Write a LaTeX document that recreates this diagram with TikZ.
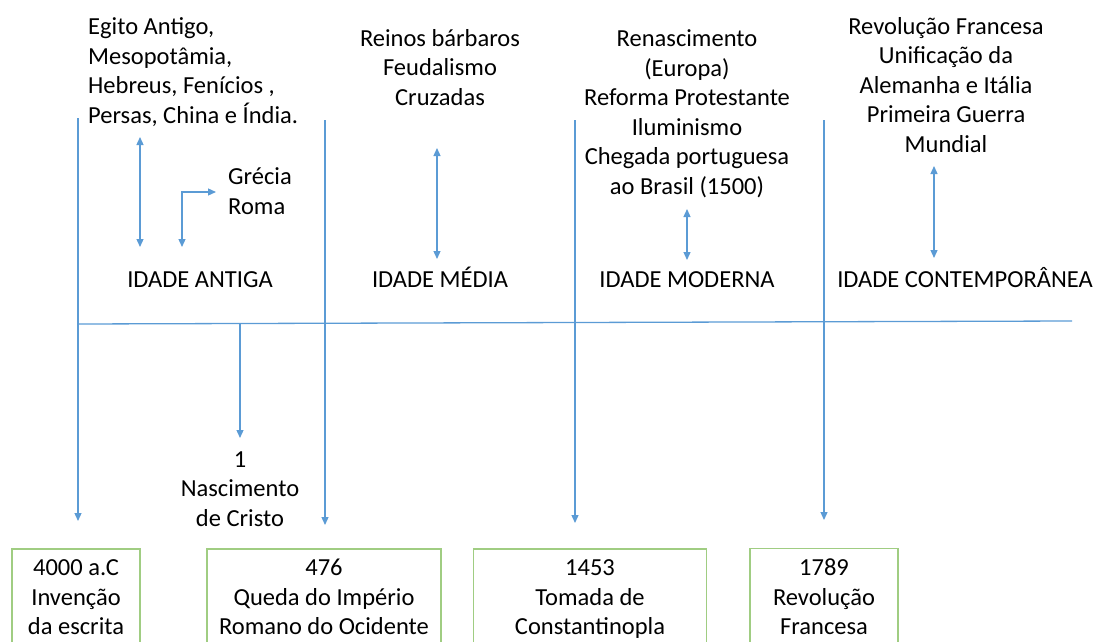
\documentclass[tikz,border=0pt]{standalone}
\usepackage{fontspec}
\setmainfont{Carlito}
\usetikzlibrary{arrows.meta,positioning}

\definecolor{lineblue}{RGB}{91,155,213}
\definecolor{boxgreen}{RGB}{160,205,130}

\tikzset{
	txt/.style={align=center, inner sep=0pt, font=\fontsize{24.5}{29.5}\selectfont},
	era/.style={txt, anchor=base},
	datebox/.style={txt, draw=boxgreen, line width=1.5pt, inner ysep=10.5pt},
	tline/.style={draw=lineblue, line width=1.3pt},
	link/.style={tline, -{Triangle[length=8pt,width=7pt]}},
	both/.style={tline, {Triangle[length=8pt,width=7pt]}-{Triangle[length=8pt,width=7pt]}}
}

\begin{document}
\begin{tikzpicture}[x=1pt,y=-1pt]
	\useasboundingbox (0,0) rectangle (1097,642);
	\clip (0,0) rectangle (1097,642);

	% eras and events above the axis
	\node[txt, anchor=west, align=left] (egito) at (88,72) {Egito Antigo,\\Mesopotâmia,\\Hebreus, Fenícios ,\\Persas, China e Índia.};
	\node[txt, anchor=west, align=left] (grecia) at (228,191) {Grécia\\Roma};
	\node[era] (antiga) at (200,287) {IDADE ANTIGA};
	\node[txt] (reinos) at (440,67.5) {Reinos bárbaros\\Feudalismo\\Cruzadas};
	\node[era] (media) at (440,287) {IDADE MÉDIA};
	\node[txt] (renasc) at (687,114) {Renascimento\\(Europa)\\Reforma Protestante\\Iluminismo\\Chegada portuguesa\\ao Brasil (1500)};
	\node[era] (moderna) at (687,287) {IDADE MODERNA};
	\node[txt] (revol) at (946,85) {Revolução Francesa\\Unificação da\\Alemanha e Itália\\Primeira Guerra\\Mundial};
	\node[era] (contemp) at (965,287) {IDADE CONTEMPORÂNEA};

	% dates below the axis
	\node[txt] (cristo) at (240,489) {1\\Nascimento\\de Cristo};
	\node[datebox, minimum width=128pt] (b4000) at (76,601.5) {4000 a.C\\Invenção\\da escrita\strut};
	\node[datebox, minimum width=234pt] (b476) at (324,601.5) {476\\Queda do Império\\Romano do Ocidente\strut};
	\node[datebox, minimum width=233pt] (b1453) at (590,601.5) {1453\\Tomada de\\Constantinopla\strut};
	\node[datebox, minimum width=148pt] (b1789) at (824,601.5) {1789\\Revolução\\Francesa\strut};

	% axis
	\coordinate (axL) at (78,324);
	\coordinate (axR) at (1072,321);
	\draw[tline] (axL) -- (axR);

	% dividing lines
	\foreach \x/\t/\b [count=\i] in {78/118/521, 325/120/525, 575/120/523, 824/120/520}{
		\coordinate (v\i t) at (\x,\t);
		\coordinate (v\i b) at (\x,\b);
		\draw[link] (v\i t) -- (v\i b);
	}

	% era arrows
	\coordinate (a1t) at (140,137);
	\coordinate (a1b) at (140,247);
	\coordinate (a2b) at (182,247);
	\coordinate (a2r) at (216,192);
	\coordinate (a3t) at (437,148);
	\coordinate (a3b) at (437,259);
	\coordinate (a4t) at (687,209);
	\coordinate (a4b) at (687,260);
	\coordinate (a5t) at (934,166);
	\coordinate (a5b) at (934,258);
	\coordinate (cx) at (240,323);
	\coordinate (cb) at (240,438);
	\draw[both] (a1t) -- (a1b);
	\draw[both] (a2b) |- (a2r);
	\draw[both] (a3t) -- (a3b);
	\draw[both] (a4t) -- (a4b);
	\draw[both] (a5t) -- (a5b);
	\draw[link] (cx) -- (cb);
\end{tikzpicture}
\end{document}
